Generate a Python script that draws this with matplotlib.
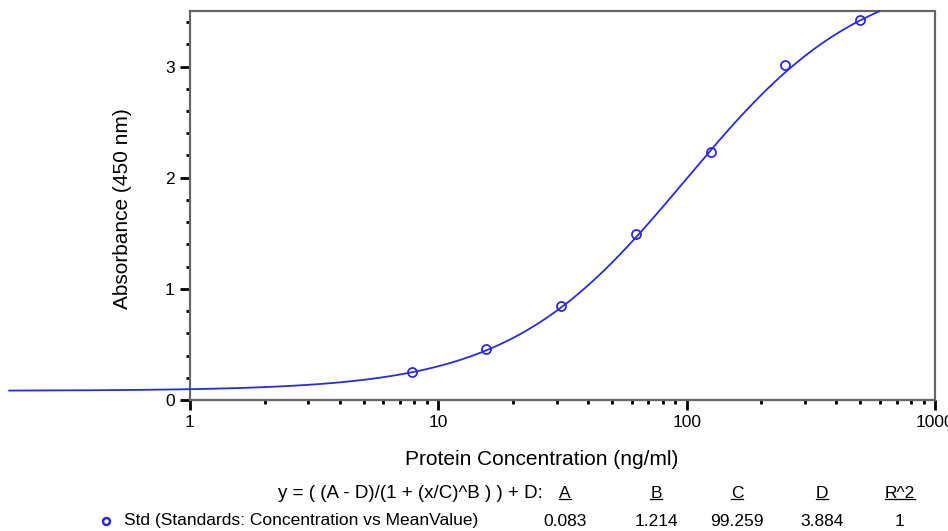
import matplotlib
matplotlib.use("Agg")
import matplotlib.pyplot as plt
import numpy as np
from matplotlib.ticker import FixedLocator, NullFormatter
from matplotlib.lines import Line2D

plt.rcParams["font.family"] = ["Liberation Sans", "DejaVu Sans"]

# standards (ng/ml) and mean absorbance
conc = [7.8125, 15.625, 31.25, 62.5, 125, 250, 500]
absorb = [0.25, 0.46, 0.85, 1.49, 2.23, 3.01, 3.42]

# 4PL fit parameters as printed under the chart
param_names = ["A", "B", "C", "D", "R^2"]
param_values = ["0.083", "1.214", "99.259", "3.884", "1"]
A, B, C, D = 0.083, 1.214, 99.259, 3.884

x_ticks = [1, 10, 100, 1000]
y_ticks = [0, 1, 2, 3]

blue = "#2a2ae0"
fig = plt.figure(figsize=(9.48, 5.31), dpi=100)
ax = fig.add_axes([190 / 948, 1 - 400 / 531, 745 / 948, 389 / 531])
ax.set_xscale("log")
ax.set_xlim(1, 1000)
ax.set_ylim(0, 3.5)

# fitted curve, runs past the left axis like the original
xc = np.logspace(np.log10(0.187), 3, 600)
yc = (A - D) / (1 + (xc / C) ** B) + D
keep = yc <= 3.5
ax.plot(xc[keep], yc[keep], color=blue, lw=1.3, clip_on=False, zorder=3)
ax.plot(conc, absorb, "o", mfc="none", mec=blue, mew=1.3, ms=6.5, zorder=4)

for s in ax.spines.values():
    s.set_color("#666666")
    s.set_linestyle((0, (1, 1)))
    s.set_linewidth(1.6)

ax.xaxis.set_major_locator(FixedLocator(x_ticks))
ax.set_xticklabels([str(t) for t in x_ticks])
minor = [m * 10 ** e for e in range(0, 3) for m in range(2, 10)]
ax.xaxis.set_minor_locator(FixedLocator(minor))
ax.xaxis.set_minor_formatter(NullFormatter())
ax.yaxis.set_major_locator(FixedLocator(y_ticks))
ax.yaxis.set_minor_locator(FixedLocator(np.arange(0.2, 3.5, 0.2)))
ax.tick_params(which="major", length=7, width=2, color="black", labelsize=12.5, pad=4)
ax.tick_params(which="minor", length=3, width=2, color="black")
ax.tick_params(top=False, right=False)

ax.set_xlabel("Protein Concentration (ng/ml)", fontsize=15)
ax.xaxis.set_label_coords((542 - 190) / 745, (400 - 450) / 389)
ax.set_ylabel("Absorbance (450 nm)", fontsize=15)
ax.yaxis.set_label_coords((132 - 190) / 745, (400 - 209) / 389)

# fit summary table below the plot
fs = 12.5
fig.text(543 / 948, 1 - 493 / 531, "y = ( (A - D)/(1 + (x/C)^B ) ) + D:", ha="right", va="center",
         fontsize=13.5)
col_x = [565, 656, 737, 822, 900]
hdrs = []
for cx, name, val in zip(col_x, param_names, param_values):
    hdrs.append(fig.text(cx / 948, 1 - 493 / 531, name, ha="center", va="center", fontsize=fs))
    fig.text(cx / 948, 1 - 521 / 531, val, ha="center", va="center", fontsize=fs)
fig.lines.append(Line2D([106 / 948], [1 - 521 / 531], marker="o", mfc="none", mec=blue,
                        mew=1.8, ms=5, transform=fig.transFigure))
fig.text(124 / 948, 1 - 521 / 531, "Std (Standards: Concentration vs MeanValue)", ha="left", va="center", fontsize=fs)

# underline the column headers
fig.canvas.draw()
r = fig.canvas.get_renderer()
for t in hdrs:
    bb = t.get_window_extent(r).transformed(fig.transFigure.inverted())
    fig.lines.append(Line2D([bb.x0, bb.x1], [bb.y0 + 0.002, bb.y0 + 0.002], color="black", lw=0.9,
                            transform=fig.transFigure))

fig.savefig("out.png", dpi=100)
